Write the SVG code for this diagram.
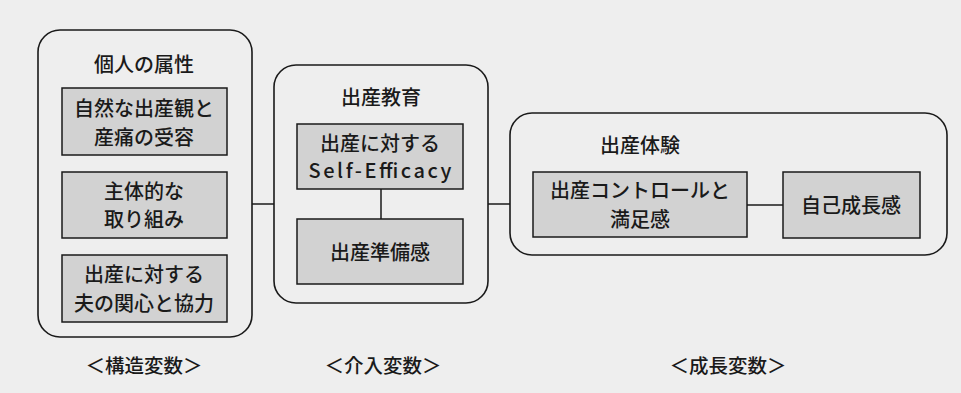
<svg xmlns="http://www.w3.org/2000/svg" width="961" height="393" viewBox="0 0 961 393">
<style>
.outer{fill:none;stroke:#1a1a1a;stroke-width:1.6}
.inner{fill:#d2d2d2;stroke:#1a1a1a;stroke-width:1.5}
.conn{stroke:#1a1a1a;stroke-width:1.5;fill:none}
text{font-family:"Noto Sans CJK JP","Noto Sans",sans-serif;font-size:20px;font-weight:500;fill:#1a1a1a;text-anchor:middle}
.lab{font-size:19.5px}
</style>
<rect x="0" y="0" width="961" height="393" fill="#eeeeee"/>
<g id="connectors">
<line class="conn" x1="252" y1="204" x2="274" y2="204"/>
<line class="conn" x1="488" y1="204" x2="510" y2="204"/>
<line class="conn" x1="381" y1="189" x2="381" y2="219"/>
<line class="conn" x1="747" y1="205" x2="783" y2="205"/>
</g>
<g id="group-kojin">
<rect class="outer" x="38" y="30" width="214" height="307" rx="22"/>
<text x="144" y="72">個人の属性</text>
</g>
<g id="node-shizen">
<rect class="inner" x="62" y="88" width="165" height="67"/>
<text x="144" y="116">自然な出産観と</text>
<text x="144" y="145">産痛の受容</text>
</g>
<g id="node-shutai">
<rect class="inner" x="62" y="172" width="165" height="66"/>
<text x="144" y="199">主体的な</text>
<text x="144" y="227">取り組み</text>
</g>
<g id="node-otto">
<rect class="inner" x="62" y="255" width="165" height="67"/>
<text x="144" y="282">出産に対する</text>
<text x="144" y="311">夫の関心と協力</text>
</g>
<g id="group-kyoiku">
<rect class="outer" x="274" y="65" width="214" height="238" rx="22"/>
<text x="381" y="105">出産教育</text>
</g>
<g id="node-efficacy">
<rect class="inner" x="297" y="124" width="166" height="65"/>
<text x="380" y="151">出産に対する</text>
<text x="380" y="178" textLength="143" lengthAdjust="spacing">Self-Efficacy</text>
</g>
<g id="node-junbi">
<rect class="inner" x="297" y="219" width="166" height="65"/>
<text x="380" y="260">出産準備感</text>
</g>
<g id="group-taiken">
<rect class="outer" x="510" y="113" width="437" height="142" rx="22"/>
<text x="640" y="153">出産体験</text>
</g>
<g id="node-control">
<rect class="inner" x="533" y="172" width="214" height="65"/>
<text x="640" y="198">出産コントロールと</text>
<text x="640" y="227">満足感</text>
</g>
<g id="node-seicho">
<rect class="inner" x="783" y="172" width="137" height="66"/>
<text x="851" y="213">自己成長感</text>
</g>
<g id="labels">
<text class="lab" x="144" y="373">＜構造変数＞</text>
<text class="lab" x="383" y="373">＜介入変数＞</text>
<text class="lab" x="728" y="373">＜成長変数＞</text>
</g>
</svg>
